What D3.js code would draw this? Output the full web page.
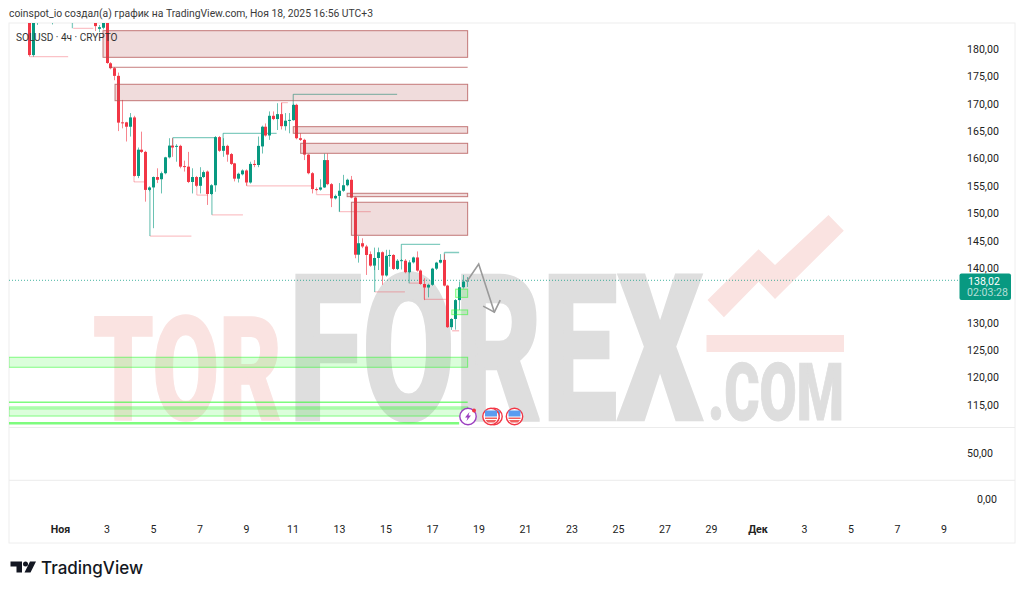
<!DOCTYPE html>
<html><head><meta charset="utf-8">
<script src="https://cdnjs.cloudflare.com/ajax/libs/d3/7.9.0/d3.min.js"></script>
<style>html,body{margin:0;background:#fff}svg{display:block}text{font-family:Roboto,"Liberation Sans",sans-serif}</style>
</head><body><svg id="c" width="1024" height="594"></svg>
<script>
// ---- data: bar offsets count 4-hour bars from 1 Nov 2025 00:00 ----
const firstBar = -8;
const opens = [195,179.2,190,192,190,188,189,190,191,192,191,189,188,188,188,188,188,188,184,184.2,188,177.7,176.8,175.4,166.9,166.9,166.1,167.8,157.1,161.9,161.5,154.55,155,156.9,156.5,157.6,160.5,162.65,162.5,162.6,158.9,158.8,156,156.9,155.3,156.9,157.9,153.8,155.4,164.2,161.7,162.6,161.1,159.4,156.6,157.4,158.1,155.9,159.3,159.1,162.5,166.1,164.5,168.1,167.5,168.4,166.2,167.2,167.3,170.1,164,163.7,161,157.6,154.7,154.6,155,160,155.6,153,153.45,154.4,155.4,156.4,153.15,142.7,144.8,144.2,142.8,140.7,142.1,143.15,138.9,142.5,142.65,140.1,141.6,141.6,139.5,141.3,142.2,139.8,137.35,136.7,137.2,140.15,141.25,141.75,137.05,129.45,130.95,134.4,136.75,137.8];
const highs = [196,192,193,194,191,190,191,192,193,193,192,190,190,189.5,189,189,189,189,184.7,189,189,177.9,177,176,171,167,168.6,168.1,162.3,165.2,161.7,155.2,157,158.5,157.9,160.6,164,164,162.9,162.8,159.9,161.5,158.5,157.1,158.7,158.1,158.1,155.6,164.4,164.4,164,162.8,161.3,159.5,157.7,158.3,158.3,159.7,160,164.3,166.3,166.7,168.9,168.9,170.4,170.5,168.6,168.6,170.3,170.3,164.9,163.9,161.1,157.8,155,156.5,161.2,161.2,155.8,153.7,155.8,157.3,156.6,157.1,153.3,146.1,145.7,144.5,143.3,144,144,143.3,143.6,143.6,142.8,141.9,141.9,141.9,141.7,142.35,143.3,140,138.4,137.4,140.3,141.4,142.8,142.8,137.2,131.1,134.6,137.8,139,138.6];
const lows = [178.9,178.9,184.7,187,187.5,187,184.8,187,187,186,187,186,185.5,186,186,186,186,183.6,183.4,183.9,177.6,176.6,174.6,165.3,165.8,163.4,164.3,157,156.7,161.3,152.4,154.3,147.55,155.8,153.9,157.4,160.3,160.6,159.7,158.5,157.9,155.8,153.9,155.1,153.9,156.7,151.8,153.6,154.2,161.5,160.6,159.7,159.1,156.1,155.9,157.2,155.3,155.7,158.7,158.7,161.2,164.3,163.7,167.3,165.5,165.6,165.4,164.9,167.2,163.8,163.5,160,157.4,153.9,154.4,154.4,154.9,155.4,151.4,152.8,150.6,154.2,155.2,153,142.05,141.25,143.9,139,140.5,139.9,139.9,137.2,138.7,140.5,139.9,139.9,140,139.3,139.3,141.1,139.6,137.2,134.4,134.9,137,139.9,141.1,136.9,129.3,128.95,129,132.6,136.5,136.8];
const closes = [179.2,190,192,190,188,189,190,191,192,191,189,188,189,188,188,188,188,184.5,184.3,188,177.75,176.8,175.4,166.85,166.8,166.1,167.8,157.1,161.9,161.5,154.55,155,156.9,156.4,157.6,160.5,162.65,162.3,162.6,158.8,158.8,156,156.9,155.3,156.9,157.8,153.8,155.4,164.2,161.7,162.6,161,159.3,156.6,157.5,158.1,155.9,159.3,159.1,162.6,166.1,164.5,168.1,167.5,168.4,166.2,167.2,167.35,170.1,164,163.7,161,157.6,154.7,154.6,155,160,155.6,153,153.45,154.4,155.4,156.4,153.15,142.7,144.8,144.2,142.65,140.7,142.1,143.15,138.9,142.5,142.65,140.1,141.6,141.7,139.5,141.3,142.2,139.8,137.35,136.7,137.2,140.15,141.25,141.75,137.05,129.45,130.95,134.4,136.75,137.8,138.02];

const lastPrice = 138.02;
const priceText = "138,02";
const countdownText = "02:03:28";
const priceTicks = [115,120,125,130,140,145,150,155,160,165,170,175,180];
const lowTicks = [0,50];
const dayTicks = [[10,1,"Ноя"],[10,3,"3"],[10,5,"5"],[10,7,"7"],[10,9,"9"],[10,11,"11"],[10,13,"13"],[10,15,"15"],[10,17,"17"],[10,19,"19"],[10,21,"21"],[10,23,"23"],[10,25,"25"],[10,27,"27"],[10,29,"29"],[11,1,"Дек"],[11,3,"3"],[11,5,"5"],[11,7,"7"],[11,9,"9"]];

// zones: [bar start, bar end, top price, bottom price]
const supplyZones = [[11.1,105.2,183.66,178.79],[14.2,105.2,173.86,170.86],[60.2,105.2,166.11,164.9],[62.1,105.2,163.07,161.24],[74.1,105.2,153.93,153.31],[75.2,105.2,152.29,146.25]];
const supplyLines = [[12.7,105.2,176.97]];
const demandZones = [[-13.2,105.2,123.95,122.12],[-13.2,105.2,114.86,113.2],[102.1,105.2,136.4,134.9],[101.1,105.2,132.6,131.74]];
const demandLines = [[-13.2,105.2,115.72,1.6],[-13.2,105.2,114.5,.8],[-13.2,103,111.88,2.6]];
// structure segments: [bar start, bar end, price start, price end]
const paleRed = [[19.1,22.1,156,156],[19.1,19.1,157.1,156],[23.2,33.9,146.1,146.1],[39.2,47.2,150,150],[35.3,38.2,153.6,153.6],[35.3,35.3,155.3,153.6],[48.2,65.2,155.3,155.3],[48.2,48.2,155.9,155.3],[57.2,58.8,170.5,170.5],[57.2,57.2,168.4,170.5],[66.2,69.7,153.7,153.7],[66.2,66.2,154.7,153.7],[72.1,80.2,150.57,150.57],[81.2,89,135.9,135.9],[90.1,93.3,137.5,137.5],[94,99.6,134.55,134.55],[94,94,136.7,134.55],[101.2,103,128.8,128.8],[-7.7,2.1,178.9,178.9],[3.4,8.6,184.1,184.1]];
const paleGreen = [[23.2,23.2,154.9,146.1],[29.1,40.2,164.1,164.1],[29.1,29.1,164.1,162.5],[42.1,55.9,164.9,164.9],[42.1,42.1,164.9,162.6],[39.2,39.2,153.8,150],[60.2,60.2,170.1,172.03],[60.2,87,172.03,172.03],[72.1,72.1,153.4,150.57],[88.1,98.1,144.6,144.6],[88.1,88.1,141.7,144.6],[99.2,103,143.1,143.1],[99.2,99.2,141.75,143.1],[81.2,81.2,140.7,135.9],[90.1,90.1,139.5,137.5],[3.2,3.2,185.2,184.1]];
// drawn arrow, [bar, price]
const arrowPath = [[105,137.8],[108.05,141],[112.1,132.2]];
const arrowHead = [[109.2,133.3],[112.1,132.2],[113.6,134.4]];

// ---- layout & scales ----
const W = {l:9,r:1015,t:23,b:543,axisTop:427.5,sep:480.3};
const t0 = Date.UTC(2025,10,1), barMs = 4*3600e3;
const barDate = i => new Date(t0 + i*barMs);
const dayDate = (m,d) => new Date(Date.UTC(2025,m,d));
const x = d3.scaleUtc().domain([dayDate(10,1),dayDate(11,9)]).range([60,943.5]);
const bx = i => x(barDate(i));
const y = d3.scaleLinear().domain([138.02,180]).range([280.3,50.7]);
const yLow = d3.scaleLinear().domain([0,50]).range([500.5,454.5]);
const svg = d3.select("#c");
const defs = svg.append("defs");
defs.append("clipPath").attr("id","pane").append("rect").attr("x",W.l).attr("y",W.t).attr("width",950).attr("height",W.axisTop-W.t);

// frame
svg.append("text").attr("x",9).attr("y",17).attr("font-size",10.35).attr("fill","#3a3a3a").text("coinspot_io создал(а) график на TradingView.com, Ноя 18, 2025 16:56 UTC+3");
svg.append("rect").attr("x",W.l).attr("y",W.t).attr("width",W.r-W.l).attr("height",W.b-W.t).attr("fill","#fff").attr("stroke","#eeeeee");
[W.axisTop,W.sep].forEach(v=>svg.append("line").attr("x1",W.l).attr("x2",W.r).attr("y1",v).attr("y2",v).attr("stroke","#ececec"));

// watermark
const wm = svg.append("g");
const wmText=(t,xp,base,fs,len,col,sw)=>{
  const n=wm.append("text").attr("font-size",fs).attr("fill",col).attr("stroke",col).attr("stroke-width",sw).style("font-family","Roboto").style("font-weight",900).text(t);
  const natural=n.node().getComputedTextLength();
  n.attr("transform",`translate(${xp},${base}) scale(${len/natural},1)`);
};
wmText("TOR",93,419.5,144,189,"#fae3e1",1.5);
wmText("FOREX",289,419.5,205,414,"#dedede",2.5);
wmText(".COM",708,419.5,80,136,"#dedede",1);
wm.append("rect").attr("x",706.5).attr("y",335).attr("width",137.5).attr("height",17).attr("fill","#fae3e1");
wm.append("polygon").attr("points","707.5,300 758.6,249.3 775,265 828.5,215 843.8,230.7 775,299 758.6,281.7 723.9,317.3").attr("fill","#fae3e1");

// last price line
svg.append("line").attr("x1",W.l).attr("x2",960).attr("y1",y(lastPrice)).attr("y2",y(lastPrice)).attr("stroke","#089981").attr("stroke-opacity",.75).attr("stroke-dasharray","1 2");

const pane = svg.append("g").attr("clip-path","url(#pane)");
// structure lines
const seg = (g,data,col,op) => g.selectAll(null).data(data).join("line")
  .attr("x1",d=>bx(d[0])).attr("x2",d=>bx(d[1])).attr("y1",d=>y(d[2])).attr("y2",d=>y(d[3]))
  .attr("stroke",col).attr("stroke-opacity",op).attr("stroke-width",1.3);
seg(pane.append("g"),paleRed,"#f23645",.3);
seg(pane.append("g"),paleGreen,"#089981",.5);

// candles
const candles = opens.map((o,k)=>({i:firstBar+k,o,h:highs[k],l:lows[k],c:closes[k]}));
const colr = d => d.c>=d.o ? "#089981" : "#f23645";
const cg = pane.append("g");
cg.selectAll("line").data(candles).join("line")
  .attr("x1",d=>Math.round(bx(d.i))+.5).attr("x2",d=>Math.round(bx(d.i))+.5)
  .attr("y1",d=>y(d.h)).attr("y2",d=>y(d.l)).attr("stroke",colr).attr("stroke-opacity",.6);
cg.selectAll("rect").data(candles).join("rect")
  .attr("x",d=>Math.round(bx(d.i))-1).attr("width",3)
  .attr("y",d=>y(Math.max(d.o,d.c))).attr("height",d=>Math.max(1,Math.abs(y(d.o)-y(d.c)))).attr("fill",colr);

// zones
const zones = (data,fill,stroke) => pane.append("g").selectAll("rect").data(data).join("rect")
  .attr("x",d=>bx(d[0])).attr("width",d=>bx(d[1])-bx(d[0])).attr("y",d=>y(d[2])).attr("height",d=>y(d[3])-y(d[2]))
  .attr("fill",fill).attr("stroke",stroke).attr("stroke-width",1);
zones(supplyZones,"rgba(178,80,80,.2)","rgba(178,80,80,.75)");
pane.append("g").selectAll("line").data(supplyLines).join("line").attr("x1",d=>bx(d[0])).attr("x2",d=>bx(d[1])).attr("y1",d=>y(d[2])).attr("y2",d=>y(d[2])).attr("stroke","rgba(178,80,80,.75)");
zones(demandZones,"rgba(40,250,40,.17)","rgba(40,250,40,.55)");
pane.append("g").selectAll("line").data(demandLines).join("line").attr("x1",d=>bx(d[0])).attr("x2",d=>bx(d[1])).attr("y1",d=>y(d[2])).attr("y2",d=>y(d[2])).attr("stroke","rgba(40,250,40,.6)").attr("stroke-width",d=>d[3]);

// arrow
const ln = d3.line().x(d=>bx(d[0])).y(d=>y(d[1]));
[arrowPath,arrowHead].forEach(a=>svg.append("path").attr("d",ln(a)).attr("fill","none").attr("stroke","#9a9a9a").attr("stroke-width",1.6));

// event icons
const flag=(cx,cy)=>{const g=svg.append("g").attr("transform",`translate(${cx},${cy})`);
  g.append("circle").attr("r",8.2).attr("fill","#fff").attr("stroke","#f23645").attr("stroke-width",1.4);
  g.append("rect").attr("x",-6).attr("y",-6).attr("width",12).attr("height",6).attr("fill","#5a9cf0");
  g.append("rect").attr("x",-6).attr("y",1).attr("width",12).attr("height",1.5).attr("fill","#f0605f");
  g.append("path").attr("d","M-5.5 3.6H5.5L3.5 6H-3.5Z").attr("fill","#f0605f");};
const pg=svg.append("g").attr("transform","translate(468,416.5)");
pg.append("circle").attr("r",8.2).attr("fill","#fff").attr("stroke","#9c3fc0").attr("stroke-width",1.4);
pg.append("path").attr("d","M1.5 -4.5L-3 1H-.5L-1.5 4.5L3 -1H.5Z").attr("fill","#9c3fc0");
pg.append("circle").attr("cx",6).attr("cy",-6).attr("r",2).attr("fill","#f23645");
flag(494,416.5);flag(491,416.5);flag(514.5,416.5);

// axes
const axR = d3.axisRight(y).tickValues(priceTicks).tickFormat(d=>d3.format(".2f")(d).replace(".",",")).tickSize(0);
const ga = svg.append("g").attr("transform","translate(965,-1.5)").call(axR);
const axL = d3.axisRight(yLow).tickValues(lowTicks).tickFormat(d=>d3.format(".2f")(d).replace(".",",")).tickSize(0);
const gl = svg.append("g").attr("transform","translate(965,-1.5)").call(axL);
[ga,gl].forEach(g=>{g.select(".domain").remove();g.selectAll("text").attr("x",2).attr("font-size",10.6).attr("fill","#222").style("font-family","Roboto")});
gl.selectAll("text").filter(d=>d===0).attr("x",12);

const axB = d3.axisBottom(x).tickValues(dayTicks.map(d=>dayDate(d[0],d[1]))).tickFormat((d,k)=>dayTicks[k][2]).tickSize(0);
const gb = svg.append("g").attr("transform","translate(0,522)").call(axB);
gb.select(".domain").remove();
gb.selectAll("text").attr("font-size",10.6).attr("fill","#222").style("font-family","Roboto").attr("font-weight",(d,k)=>dayTicks[k][2].length>2?700:400);

// price tag
svg.append("rect").attr("x",959.5).attr("y",273.5).attr("width",51.5).attr("height",26.5).attr("rx",2).attr("fill","#089981");
svg.append("text").attr("x",968).attr("y",284.5).attr("font-size",10.6).attr("fill","#fff").text(priceText);
svg.append("text").attr("x",967).attr("y",296).attr("font-size",10.6).attr("fill","#fff").attr("fill-opacity",.7).text(countdownText);

// legend on top of everything
svg.append("text").attr("x",16).attr("y",40.5).attr("font-size",10.1).attr("fill","#333").text("SOLUSD · 4ч · CRYPTO");

// logo
const lg=svg.append("g").attr("fill","#131722");
lg.append("path").attr("d","M10.5 561.5H22V572.5H16.5V566.5H10.5Z");
lg.append("circle").attr("cx",25.5).attr("cy",564).attr("r",2.5);
lg.append("path").attr("d","M30 561.5H36L30.5 572.5H24.5Z");
svg.append("text").attr("x",41).attr("y",574).attr("font-size",17).attr("font-weight",500).attr("fill","#131722").style("font-family","Inter").text("TradingView");
</script></body></html>
